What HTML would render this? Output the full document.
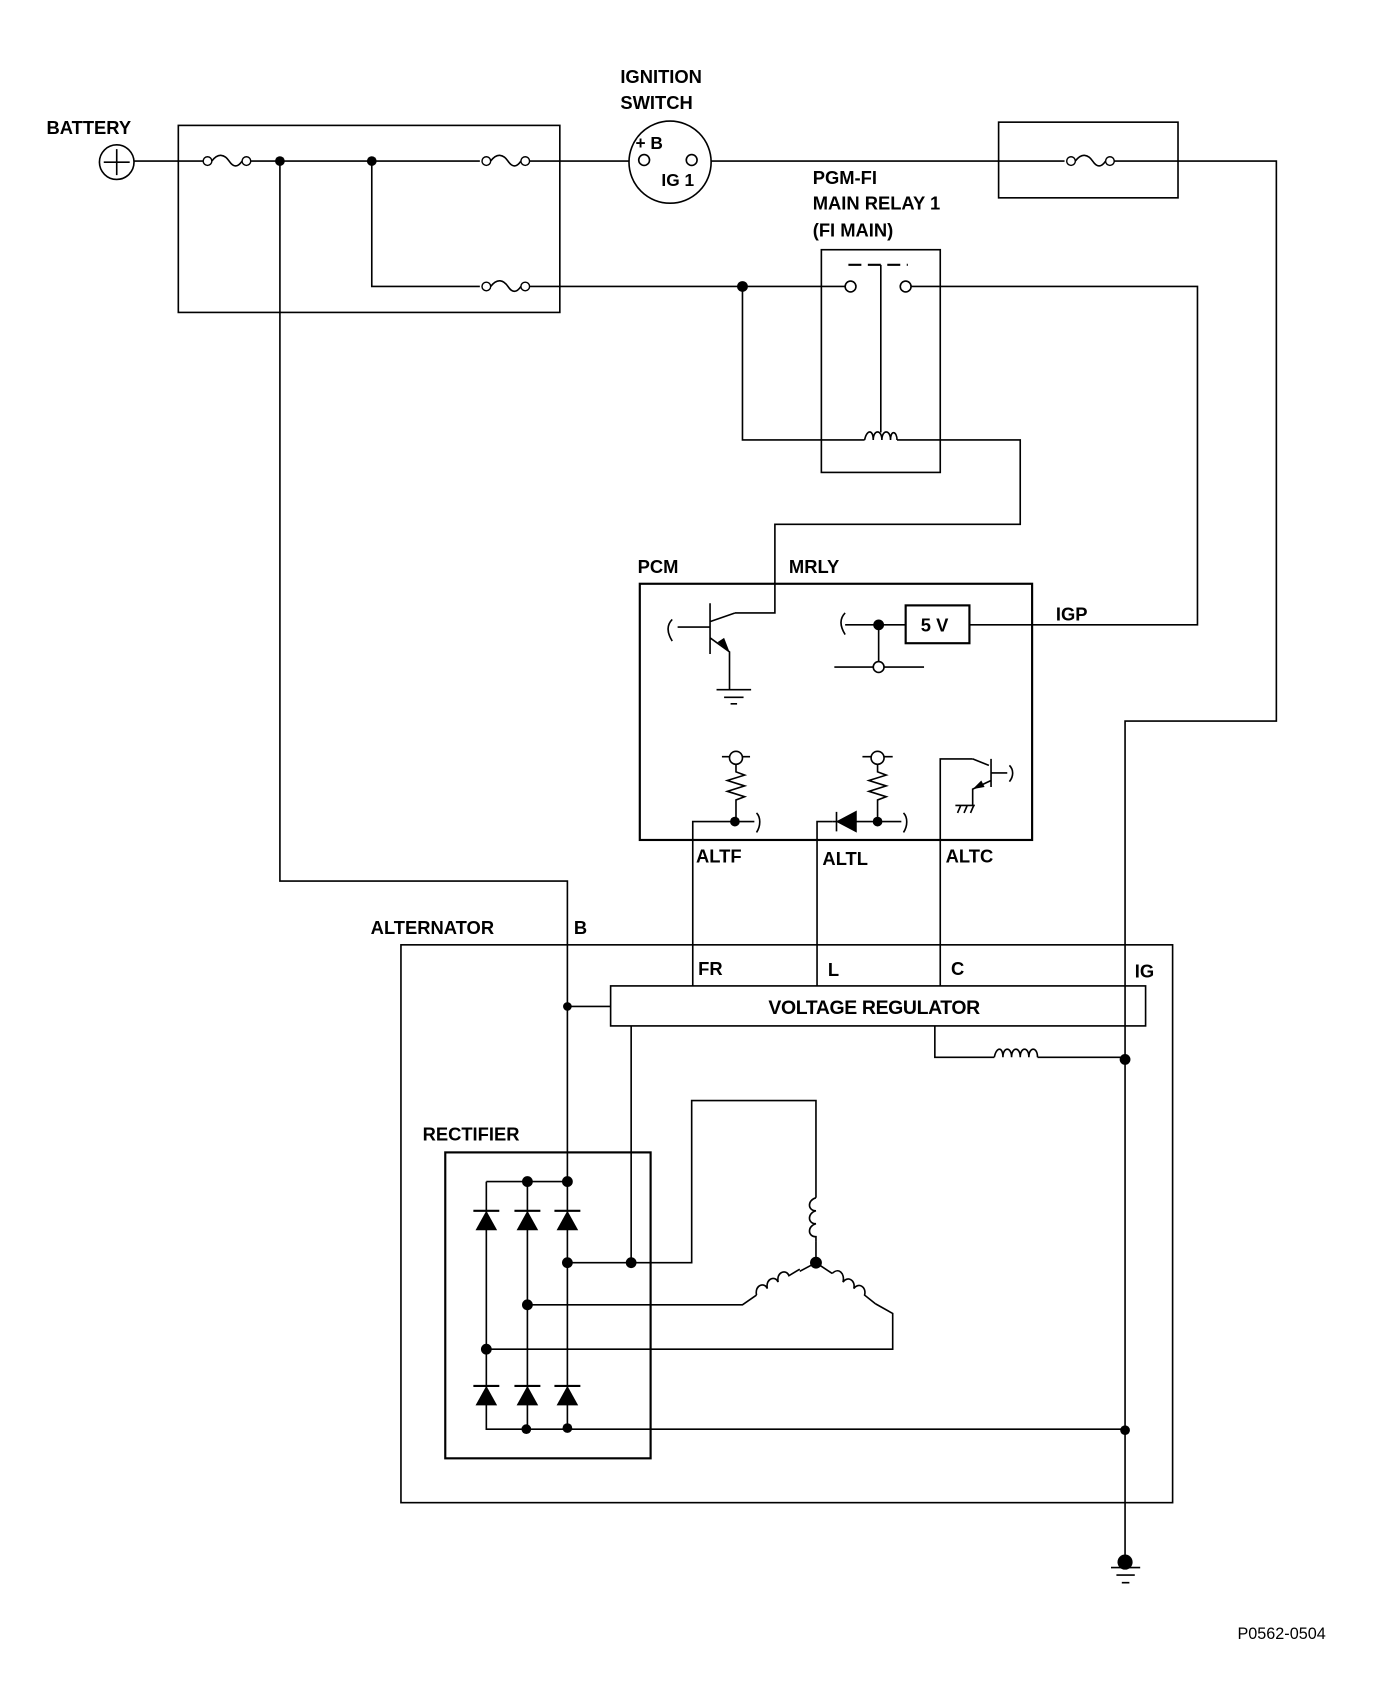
<!DOCTYPE html>
<html><head><style>html,body{margin:0;padding:0;background:#fff}svg{display:block}</style></head>
<body>
<svg width="1392" height="1694" viewBox="0 0 1288 1567" preserveAspectRatio="none" xmlns="http://www.w3.org/2000/svg" font-family="Liberation Sans, sans-serif" font-weight="bold">
<defs>
<g id="fuse"><circle cx="4" cy="0" r="4" fill="#fff" stroke="#000" stroke-width="1.3"/><path d="M8 0 C14 -8 20 -6 24 0 S32 6 36 0" fill="none" stroke="#000" stroke-width="1.5"/><circle cx="40" cy="0" r="4" fill="#fff" stroke="#000" stroke-width="1.3"/></g>
<g id="dio"><path d="M-12 -8 H12" stroke="#000" stroke-width="2"/><path d="M0 -8 L-10 10 H10 Z" fill="#000"/></g>
</defs>
<g fill="none" stroke="#000" stroke-width="1.5">
<rect x="165" y="116" width="353" height="173"/>
<rect x="924" y="113" width="166" height="70"/>
<rect x="760" y="231" width="110" height="206"/>
<rect x="592" y="540" width="363" height="237" stroke-width="2"/>
<rect x="371" y="874" width="714" height="516"/>
<rect x="565" y="912" width="495" height="37"/>
<rect x="412" y="1066" width="190" height="283" stroke-width="2"/>
<rect x="838" y="560" width="59" height="35" stroke-width="2"/>
<path d="M124 149 H190 M230 149 H444 M490 149 H582 M658 149 H985 M1031 149 H1181 V667 H1041 V1445"/>
<path d="M259 149 V815 H525 V1322"/>
<path d="M525 931 H565"/>
<path d="M344 149 V265 H444 M490 265 H783"/>
<path d="M687 265 V407 H800 M830 407 H944 V485 H717 V567 H680"/>
<path d="M842 265 H1108 V578 H897"/>
<path d="M641 912 V760 H680 M756 912 V760 H770 M870 912 V702 H900"/>
<path d="M584 949 V1168 M865 949 V978 H920 M960 978 H1041"/>
<path d="M785 245 H840" stroke-dasharray="12 6" stroke-width="2"/>
<path d="M815 245 V400"/>
<path d="M800 407 c2 -10 8 -10 8 0 c0 -10 8 -10 8 0 c0 -10 8 -10 8 0 c0 -10 6 -8 6 0" />
<path d="M450 1093 H525 M450 1093 V1322 H1041 M488 1093 V1322"/>
<path d="M525 1168 H640 V1018 H755 V1108"/>
<path d="M755 1148 V1168"/>
<path d="M488 1207 H687 L700 1198"/>
<path d="M450 1248 H826 V1215 L810 1206"/>
<path d="M755 1168 L740 1176 M755 1168 L770 1178"/>
<path d="M755 1108 c-8 2 -8 12 0 12 c-8 2 -8 12 0 12 c-8 2 -8 12 0 12 v4"/>
<path d="M700 1198 c-2 -10 8 -12 10 -6 c-2 -10 8 -12 10 -6 c-2 -10 8 -12 10 -6 l10 -6"/>
<path d="M770 1178 c6 -6 12 0 10 8 c4 -6 12 -2 10 6 c4 -6 12 -2 10 6 l10 8"/>
<path d="M920 978 c2 -10 8 -10 8 0 c0 -10 8 -10 8 0 c0 -10 8 -10 8 0 c0 -10 8 -10 8 0 c0 -10 8 -10 8 0"/>
<circle cx="620" cy="150" r="38"/>
<circle cx="108" cy="150" r="16"/>
<path d="M96 150 H120 M108 138 V162"/>
<path d="M657 558 V605 M627 580 H657 M657 575 L680 567 M657 590 L675 603 V638 M663 638 H695 M670 645 H688 M676 651 H682"/>
<path d="M622 573 c-5 5 -5 12 0 20"/>
<path d="M782 567 c-5 5 -5 12 0 20 M782 578 H838 M813 578 V612 M772 617 H855"/>
<path d="M668 700 H694 M681 706 V714 l8 3 -16 5 16 5 -16 5 16 5 -8 3 V760 M681 760 H698 M700 752 c4 4 4 12 0 18"/>
<path d="M798 700 H826 M812 706 V714 l8 3 -16 5 16 5 -16 5 16 5 -8 3 V760 M770 760 H834 M836 752 c4 4 4 12 0 18"/>
<path d="M900 702 L915 708 M917 702 V728 M917 715 H932 M934 708 c4 4 4 10 0 15 M917 722 L900 730 V745 M884 745 H902 M886 752 l3 -7 M892 752 l3 -7 M898 752 l3 -7"/>
<path d="M1028 1450 H1055 M1033 1457 H1050 M1038 1464 H1045"/>
</g>
<g fill="#fff" stroke="#000" stroke-width="1.5">
<circle cx="596" cy="148" r="5"/><circle cx="640" cy="148" r="5"/>
<circle cx="787" cy="265" r="5"/><circle cx="838" cy="265" r="5"/>
<circle cx="813" cy="617" r="5"/><circle cx="681" cy="701" r="6"/><circle cx="812" cy="701" r="6"/>
</g>
<path d="M675 603 L664 594 L670 590 Z" fill="#000"/>
<path d="M900 730 L908 722 L911 728 Z" fill="#000"/>
<path d="M775 760 L792 751 V769 Z M774 751 V769" fill="#000" stroke="#000" stroke-width="1.5"/>
<use href="#fuse" x="188" y="149"/><use href="#fuse" x="446" y="149"/><use href="#fuse" x="446" y="265"/><use href="#fuse" x="987" y="149"/>
<use href="#dio" x="450" y="1128"/><use href="#dio" x="488" y="1128"/><use href="#dio" x="525" y="1128"/>
<use href="#dio" x="450" y="1290"/><use href="#dio" x="488" y="1290"/><use href="#dio" x="525" y="1290"/>
<g fill="#000">
<circle cx="259" cy="149" r="4.5"/><circle cx="344" cy="149" r="4.5"/><circle cx="687" cy="265" r="5"/>
<circle cx="813" cy="578" r="5"/><circle cx="680" cy="760" r="4.5"/><circle cx="812" cy="760" r="4.5"/>
<circle cx="525" cy="931" r="4"/><circle cx="1041" cy="980" r="5"/><circle cx="1041" cy="1323" r="4.5"/>
<circle cx="488" cy="1093" r="5"/><circle cx="525" cy="1093" r="5"/><circle cx="525" cy="1168" r="5"/><circle cx="584" cy="1168" r="5"/>
<circle cx="488" cy="1207" r="5"/><circle cx="450" cy="1248" r="5"/><circle cx="487" cy="1322" r="4.5"/><circle cx="525" cy="1321" r="4.5"/>
<circle cx="755" cy="1168" r="5.5"/><circle cx="1041" cy="1445" r="7"/>
</g>
<g font-size="17" fill="#000">
<text x="43" y="124">BATTERY</text>
<text x="574" y="77">IGNITION</text><text x="574" y="101">SWITCH</text>
<text x="588" y="138" font-size="16">+ B</text><text x="612" y="172" font-size="16">IG 1</text>
<text x="752" y="170">PGM-FI</text><text x="752" y="194">MAIN RELAY 1</text><text x="752" y="219">(FI MAIN)</text>
<text x="590" y="530">PCM</text><text x="730" y="530">MRLY</text><text x="977" y="574">IGP</text>
<text x="852" y="584">5 V</text>
<text x="644" y="798">ALTF</text><text x="761" y="800">ALTL</text><text x="875" y="798">ALTC</text>
<text x="343" y="864">ALTERNATOR</text><text x="531" y="864">B</text>
<text x="646" y="902">FR</text><text x="766" y="903">L</text><text x="880" y="902">C</text><text x="1050" y="904">IG</text>
<text x="711" y="938" font-size="18" textLength="196">VOLTAGE REGULATOR</text>
<text x="391" y="1055">RECTIFIER</text>
<text x="1145" y="1516" font-size="15" font-weight="normal">P0562-0504</text>
</g>
</svg>
</body></html>
